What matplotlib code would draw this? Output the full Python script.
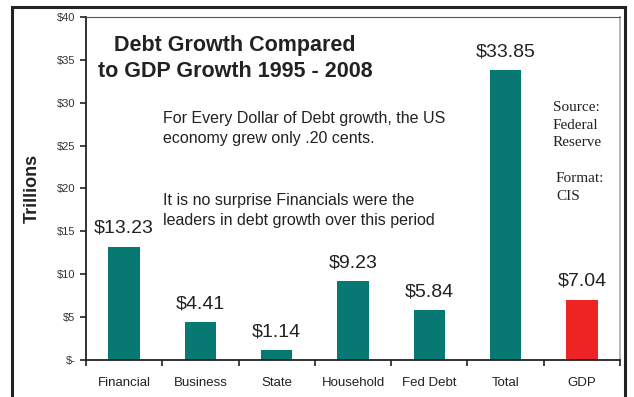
import matplotlib.pyplot as plt
from matplotlib.patches import Rectangle

plt.rcParams['font.family'] = ['Liberation Sans', 'DejaVu Sans']

categories = ['Financial', 'Business', 'State', 'Household', 'Fed Debt', 'Total', 'GDP']
values = [13.23, 4.41, 1.14, 9.23, 5.84, 33.85, 7.04]
colors = ['#087873'] * 6 + ['#EE2424']
yticks = [0, 5, 10, 15, 20, 25, 30, 35, 40]
ytick_labels = ['$-'] + [f'${v}' for v in yticks[1:]]

fig = plt.figure(figsize=(6.34, 3.97), dpi=100)
ax = fig.add_axes([0.1356, 0.0932, 0.8424, 0.8640])

x = list(range(len(categories)))
bars = ax.bar(x, values, width=0.41, color=colors)
for xi, v in zip(x, values):
    ax.annotate(f'${v:.2f}', (xi, v), xytext=(0, 7), textcoords='offset points',
                ha='center', va='bottom', fontsize=14, color='#222222')

ax.set_xlim(-0.5, len(categories) - 0.5)
ax.set_ylim(0, 40)
ax.set_yticks(yticks)
ax.set_yticklabels(ytick_labels, fontsize=8, color='#333333')
ax.set_xticks(x)
ax.set_xticklabels(categories, fontsize=9.5, color='#222222')
ax.tick_params(axis='x', length=0, pad=12)
ax.set_xticks([i + 0.5 for i in range(-1, len(categories))], minor=True)
ax.tick_params(axis='x', which='minor', length=4, width=1.2, color='#222222')
ax.tick_params(axis='y', length=4, width=1.2, color='#222222')

ax.spines['left'].set_linewidth(1.3)
ax.spines['left'].set_color('#222222')
ax.spines['bottom'].set_linewidth(1.3)
ax.spines['bottom'].set_color('#222222')
ax.spines['top'].set_color('#555555')
ax.spines['top'].set_linewidth(0.8)
ax.spines['right'].set_color('#aaaaaa')
ax.spines['right'].set_linewidth(1.2)

ax.set_ylabel('Trillions', fontsize=13, fontweight='bold', color='#222222', labelpad=12)

ax.text(0.279, 0.879, 'Debt Growth Compared\nto GDP Growth 1995 - 2008', transform=ax.transAxes,
        ha='center', va='center', fontsize=15.5, fontweight='bold', color='#222222',
        linespacing=1.32)
ax.text(0.144, 0.675, 'For Every Dollar of Debt growth, the US\neconomy grew only .20 cents.',
        transform=ax.transAxes, ha='left', va='center', fontsize=11.5, color='#222222',
        linespacing=1.4)
ax.text(0.144, 0.437, 'It is no surprise Financials were the\nleaders in debt growth over this period',
        transform=ax.transAxes, ha='left', va='center', fontsize=11.5, color='#222222',
        linespacing=1.4)
ax.text(0.874, 0.685, 'Source:\nFederal\nReserve', transform=ax.transAxes, ha='left', va='center',
        fontsize=11, family='Liberation Serif', color='#222222', linespacing=1.45)
ax.text(0.880, 0.503, 'Format:\nCIS', transform=ax.transAxes, ha='left', va='center',
        fontsize=11, family='Liberation Serif', color='#222222', linespacing=1.45)

# outer frame around the whole chart
fig.add_artist(Rectangle((12 / 634, -0.05), 613 / 634, 1.05 - 7 / 397, transform=fig.transFigure,
                         fill=False, edgecolor='#222222', linewidth=2.2))

fig.savefig('out.png', dpi=100)
